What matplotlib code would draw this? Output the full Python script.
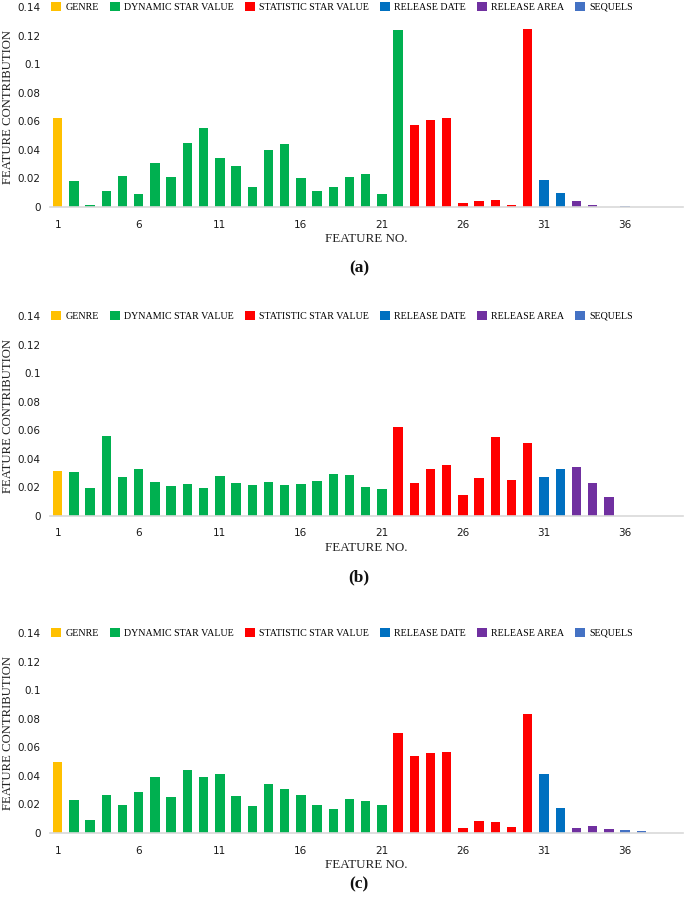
import matplotlib
matplotlib.use("Agg")
import matplotlib.pyplot as plt
from matplotlib.patches import Patch

# ---------------- data ----------------
group_names = ["GENRE", "DYNAMIC STAR VALUE", "STATISTIC STAR VALUE",
               "RELEASE DATE", "RELEASE AREA", "SEQUELS"]
group_colors = ["#FFC000", "#00B050", "#FF0000", "#0070C0", "#7030A0", "#4472C4"]

features = list(range(1, 38))
xtick_labels = [1, 6, 11, 16, 21, 26, 31, 36]
ytick_values = [0, 0.02, 0.04, 0.06, 0.08, 0.1, 0.12, 0.14]
ytick_labels = ["0", "0.02", "0.04", "0.06", "0.08", "0.1", "0.12", "0.14"]

# group index of each feature (0 genre, 1 dynamic, 2 statistic, 3 date, 4 area, 5 sequels)
groups_a = [0] + [1] * 21 + [2] * 8 + [3] * 2 + [4] * 3 + [5] * 2
groups_b = [0] + [1] * 20 + [2] * 9 + [3] * 2 + [4] * 3 + [5] * 2
groups_c = [0] + [1] * 20 + [2] * 9 + [3] * 2 + [4] * 3 + [5] * 2

values_a = [0.062, 0.018, 0.0012, 0.011, 0.022, 0.009, 0.031, 0.021, 0.0445, 0.0555,
            0.034, 0.0285, 0.014, 0.040, 0.044, 0.020, 0.0115, 0.014, 0.021, 0.023,
            0.009, 0.124, 0.0574, 0.0607, 0.0624, 0.0026, 0.0042, 0.0052, 0.0014, 0.1245,
            0.0188, 0.0096, 0.0042, 0.0012, 0.0, 0.0005, 0.0]
values_b = [0.0314, 0.031, 0.0194, 0.0562, 0.0274, 0.033, 0.0239, 0.0213, 0.0227, 0.0194,
            0.0281, 0.0232, 0.0215, 0.0236, 0.0215, 0.0225, 0.0243, 0.0295, 0.0288, 0.0206,
            0.0192, 0.062, 0.0232, 0.033, 0.036, 0.015, 0.0267, 0.0555, 0.0253, 0.0513,
            0.0276, 0.033, 0.0346, 0.0232, 0.0131, 0.0, 0.0]
values_c = [0.050, 0.023, 0.0091, 0.0265, 0.0197, 0.0286, 0.039, 0.0255, 0.044, 0.039,
            0.0412, 0.0262, 0.019, 0.0344, 0.031, 0.0269, 0.0194, 0.0168, 0.0236, 0.0225,
            0.0199, 0.070, 0.054, 0.0557, 0.0566, 0.0033, 0.0087, 0.0077, 0.0042, 0.083,
            0.041, 0.0178, 0.0033, 0.0049, 0.0026, 0.0021, 0.0016]

panels = [("(a)", values_a, groups_a), ("(b)", values_b, groups_b), ("(c)", values_c, groups_c)]

# ---------------- layout ----------------
W, H = 685, 898
fig = plt.figure(figsize=(W / 100, H / 100), dpi=100)

tick_font = ["Liberation Sans Narrow", "DejaVu Sans"]
serif = ["Liberation Serif", "DejaVu Serif"]

# (axis-top px, axis-bottom px, caption y px)
rows = [(7, 207, 268), (316, 516, 577), (633, 833, 884)]
left_px, right_px = 49.6, 682.6
ax_w = right_px - left_px

for (cap, vals, grps), (top, bot, capy) in zip(panels, rows):
    ax = fig.add_axes([left_px / W, 1 - bot / H, ax_w / W, (bot - top) / H])
    colors = [group_colors[g] for g in grps]
    ax.bar(features, vals, width=0.58, color=colors, zorder=2)
    ax.set_xlim(0.5, 39.55)
    ax.set_ylim(0, 0.14)
    ax.set_xticks(xtick_labels)
    ax.set_xticklabels([str(t) for t in xtick_labels], family=tick_font, fontsize=7.5)
    ax.set_yticks(ytick_values)
    ax.set_yticklabels(ytick_labels, family=tick_font, fontsize=7.5)
    ax.tick_params(axis="both", length=0, colors="#1a1a1a")
    ax.tick_params(axis="x", pad=9)
    ax.tick_params(axis="y", pad=6.5)
    for s in ["top", "left", "right"]:
        ax.spines[s].set_visible(False)
    ax.spines["bottom"].set_color("#D9D9D9")
    ax.spines["bottom"].set_linewidth(1.2)
    ax.spines["bottom"].set_zorder(3)
    ax.set_xlabel("FEATURE NO.", family=serif, fontsize=9.4, color="#222222", labelpad=2.2)
    ax.set_ylabel("FEATURE CONTRIBUTION", family=serif, fontsize=9.2, color="#222222")
    ax.yaxis.label.set_va("center")
    ax.yaxis.set_label_coords(-(left_px - 8.5) / ax_w, 0.5)

    handles = [Patch(facecolor=c, edgecolor="none") for c in group_colors]
    ax.legend(handles, group_names, loc="center left", bbox_to_anchor=(0.003, 1.0),
              ncol=6, frameon=False, borderpad=0, borderaxespad=0,
              handlelength=1.0, handleheight=0.95, handletextpad=0.4,
              columnspacing=1.12, prop={"family": serif, "size": 7.2})

    fig.text(359 / W, 1 - capy / H, cap, ha="center", va="center",
             family=serif, fontsize=12.5, fontweight="bold", color="#111111")

fig.savefig("out.png", dpi=100)
